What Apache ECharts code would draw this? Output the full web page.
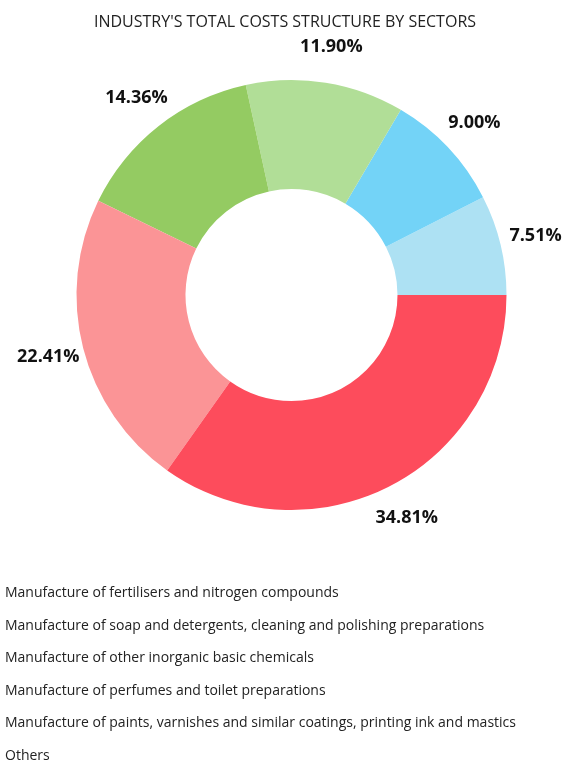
<!DOCTYPE html>
<html>
<head>
<meta charset="utf-8">
<script src="https://cdn.jsdelivr.net/npm/echarts@6/dist/echarts.min.js"></script>
<style>
  html, body { margin: 0; padding: 0; background: #fff; }
  #main { width: 570px; height: 762px; }
</style>
</head>
<body>
<div id="main"></div>
<script>
// 行业名称
const sectors = [
  'Manufacture of fertilisers and nitrogen compounds',
  'Manufacture of soap and detergents, cleaning and polishing preparations',
  'Manufacture of other inorganic basic chemicals',
  'Manufacture of perfumes and toilet preparations',
  'Manufacture of paints, varnishes and similar coatings, printing ink and mastics',
  'Others'
]
// 占比 %
const shares = [7.51, 9.00, 11.90, 14.36, 22.41, 34.81]
// 颜色
const colors = ['#ade1f3', '#73d3f7', '#b1de97', '#94cb62', '#fb9496', '#fd4c5c']

const font = '"Open Sans", "Noto Sans", sans-serif'

var myChart = echarts.init(document.getElementById('main'))

let pieData = sectors.map((name, i) => {
  return { name: name, value: shares[i], itemStyle: { color: colors[i] } }
})

let option = {
  animation: false,
  title: {
    text: "INDUSTRY'S TOTAL COSTS STRUCTURE BY SECTORS",
    left: 'center',
    top: 9,
    textStyle: { fontFamily: font, fontSize: 16, fontWeight: 'normal', color: '#222' }
  },
  legend: {
    orient: 'vertical',
    left: 0,
    top: 586,
    height: 200,
    padding: 0,
    icon: 'none',
    itemWidth: 0,
    itemHeight: 14,
    itemGap: 18.6,
    selectedMode: false,
    data: sectors,
    textStyle: { fontFamily: font, fontSize: 14, color: '#222', lineHeight: 14 }
  },
  series: [
    {
      type: 'pie',
      center: [291.5, 295],
      radius: [106, 215],
      startAngle: 0,
      clockwise: false,
      silent: true,
      label: { show: false },
      labelLine: { show: false },
      data: pieData
    },
    // 透明的外环，只用来放百分比标签
    {
      type: 'pie',
      center: [291.5, 295],
      radius: [232, 264],
      startAngle: 0,
      clockwise: false,
      silent: true,
      itemStyle: { color: 'rgba(0,0,0,0)' },
      label: {
        show: true,
        position: 'inside',
        formatter: p => p.value.toFixed(2) + '%',
        fontFamily: font,
        fontSize: 18,
        fontWeight: 'bold',
        color: '#111'
      },
      labelLine: { show: false },
      data: sectors.map((name, i) => ({ name: name, value: shares[i] }))
    }
  ]
}

myChart.setOption(option)
</script>
</body>
</html>
